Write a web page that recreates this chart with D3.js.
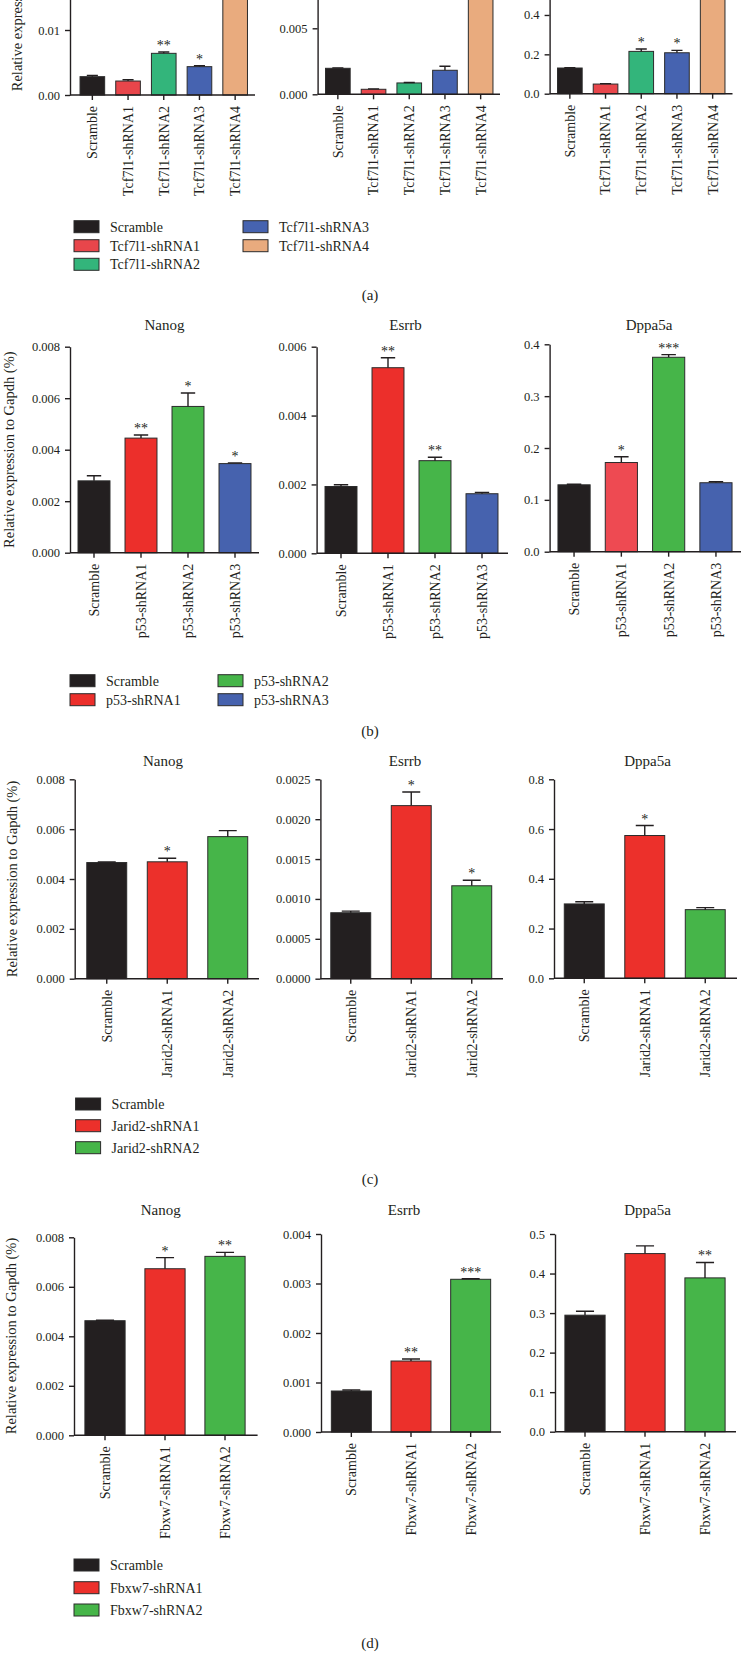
<!DOCTYPE html>
<html><head><meta charset="utf-8">
<script src="https://cdn.jsdelivr.net/npm/d3@7"></script>
<style>
body{margin:0;background:#fff}
svg{display:block}
text{font-family:"Liberation Serif","Times New Roman",serif;fill:#231f20}
</style>
</head><body>
<svg id="c" width="741" height="1665"></svg>
<script>
// ---------------- DATA ----------------
const genes = ["Nanog", "Esrrb", "Dppa5a"];
const panelNames = ["(a)", "(b)", "(c)", "(d)"];

// (a) Tcf7l1 knockdown (top of figure is cropped)
const catsA = ["Scramble", "Tcf7l1-shRNA1", "Tcf7l1-shRNA2", "Tcf7l1-shRNA3", "Tcf7l1-shRNA4"];
const meanA = [[0.00282, 0.00215, 0.00641, 0.00436, 0.025],
               [0.00197, 0.00038, 0.00086, 0.00182, 0.012],
               [0.1305, 0.049, 0.215, 0.208, 0.8]];
const errA  = [[0.0002, 0.0002, 0.0002, 0.00015, 0.001],
               [0.00003, 0.00003, 0.00003, 0.0003, 0.001],
               [0.002, 0.002, 0.012, 0.012, 0.05]];
const sigA  = [["", "", "**", "*", ""], ["", "", "", "", ""], ["", "", "*", "*", ""]];
const ticksA = [[0, 0.01], [0, 0.005], [0, 0.2, 0.4]];
const tickTextA = [["0.00", "0.01"], ["0.000", "0.005"], ["0.0", "0.2", "0.4"]];
const yMaxA = [0.02, 0.01, 0.6];
const colorsA = ["#231f20", "#e8464b", "#33b57b", "#4663b0", "#e9ab7e"];

// (b) p53 knockdown
const catsB = ["Scramble", "p53-shRNA1", "p53-shRNA2", "p53-shRNA3"];
const meanB = [[0.00279, 0.00445, 0.00568, 0.00346],
               [0.00194, 0.00539, 0.00269, 0.00173],
               [0.129, 0.172, 0.375, 0.133]];
const errB  = [[0.0002, 0.00012, 0.00052, 0.00003],
               [0.00005, 0.00029, 0.0001, 0.00004],
               [0.001, 0.011, 0.005, 0.002]];
const sigB  = [["", "**", "*", "*"], ["", "**", "**", ""], ["", "*", "***", ""]];
const ticksB = [[0, 0.002, 0.004, 0.006, 0.008], [0, 0.002, 0.004, 0.006], [0, 0.1, 0.2, 0.3, 0.4]];
const tickTextB = [["0.000", "0.002", "0.004", "0.006", "0.008"], ["0.000", "0.002", "0.004", "0.006"], ["0.0", "0.1", "0.2", "0.3", "0.4"]];
const yMaxB = [0.008, 0.006, 0.4];
const colorsB = ["#231f20", "#ec2f2b", "#46b549", "#4662ae"];
const colorsBDppa5a = ["#231f20", "#ee4a52", "#46b549", "#4662ae"];

// (c) Jarid2 knockdown
const catsC = ["Scramble", "Jarid2-shRNA1", "Jarid2-shRNA2"];
const meanC = [[0.00466, 0.00469, 0.0057],
               [0.000827, 0.00217, 0.001165],
               [0.299, 0.574, 0.276]];
const errC  = [[0.00002, 0.00014, 0.00024],
               [0.00002, 0.00017, 0.00007],
               [0.009, 0.04, 0.008]];
const sigC  = [["", "*", ""], ["", "*", "*"], ["", "*", ""]];
const ticksC = [[0, 0.002, 0.004, 0.006, 0.008], [0, 0.0005, 0.001, 0.0015, 0.002, 0.0025], [0, 0.2, 0.4, 0.6, 0.8]];
const tickTextC = [["0.000", "0.002", "0.004", "0.006", "0.008"], ["0.0000", "0.0005", "0.0010", "0.0015", "0.0020", "0.0025"], ["0.0", "0.2", "0.4", "0.6", "0.8"]];
const yMaxC = [0.008, 0.0025, 0.8];
const colorsC = ["#231f20", "#ec302b", "#46b549"];

// (d) Fbxw7 knockdown
const catsD = ["Scramble", "Fbxw7-shRNA1", "Fbxw7-shRNA2"];
const meanD = [[0.00463, 0.00673, 0.00723],
               [0.000828, 0.001434, 0.003085],
               [0.2947, 0.4505, 0.389]];
const errD  = [[0.00002, 0.00045, 0.00016],
               [0.00002, 0.00004, 0.00001],
               [0.010, 0.0195, 0.039]];
const sigD  = [["", "*", "**"], ["", "**", "***"], ["", "", "**"]];
const ticksD = [[0, 0.002, 0.004, 0.006, 0.008], [0, 0.001, 0.002, 0.003, 0.004], [0, 0.1, 0.2, 0.3, 0.4, 0.5]];
const tickTextD = [["0.000", "0.002", "0.004", "0.006", "0.008"], ["0.000", "0.001", "0.002", "0.003", "0.004"], ["0.0", "0.1", "0.2", "0.3", "0.4", "0.5"]];
const yMaxD = [0.008, 0.004, 0.5];
const colorsD = ["#231f20", "#ec302b", "#46b549"];

const yTitle = "Relative expression to Gapdh (%)";

// ---------------- LAYOUT (positions only) ----------------
const panels = [
  { cats: catsA, mean: meanA, err: errA, sig: sigA, ticks: ticksA, tickText: tickTextA, yMax: yMaxA,
    colors: [colorsA, colorsA, colorsA], legendColors: colorsA,
    y0: [95, 94.3, 93.7], yTop: [-35, -37.7, -24.4],
    axisX: [70, 317.6, 549.6], axisEnd: [255, 500, 732.5],
    range: [[74.5, 253], [320, 498.5], [552, 730.5]], pad: 0.31,
    titleY: null, titleX: [164, 405, 649],
    ylabX: 17, ylabY: -7,
    legend: [[74, 226.7], [74, 245.7], [74, 264.3], [243, 226.7], [243, 245.7]],
    nameY: 295 },
  { cats: catsB, mean: meanB, err: errB, sig: sigB, ticks: ticksB, tickText: tickTextB, yMax: yMaxB,
    colors: [colorsB, colorsB, colorsBDppa5a], legendColors: colorsB,
    y0: [552.7, 553.3, 551.7], yTop: [346.7, 346.7, 344.3],
    axisX: [70, 316.6, 549.6], axisEnd: [259, 508, 741],
    range: [[70.5, 258.5], [317.5, 505.5], [550.4, 739.6]], pad: 0.32,
    titleY: 325, titleX: [164.5, 405.5, 649],
    ylabX: 8.5, ylabY: 449.7,
    legend: [[70, 680.7], [70, 699.7], [218, 680.7], [218, 699.7]],
    nameY: 731 },
  { cats: catsC, mean: meanC, err: errC, sig: sigC, ticks: ticksC, tickText: tickTextC, yMax: yMaxC,
    colors: [colorsC, colorsC, colorsC], legendColors: colorsC,
    y0: [978.7, 978.7, 978.3], yTop: [779.3, 779.3, 779.3],
    axisX: [74.7, 320.4, 554], axisEnd: [259, 503, 737],
    range: [[76.5, 258], [320.5, 502], [554, 735.5]], pad: 0.34,
    titleY: 760.7, titleX: [163, 405, 647.5],
    ylabX: 12, ylabY: 879,
    legend: [[75.6, 1104], [75.6, 1125.7], [75.6, 1147.7]],
    nameY: 1179 },
  { cats: catsD, mean: meanD, err: errD, sig: sigD, ticks: ticksD, tickText: tickTextD, yMax: yMaxD,
    colors: [colorsD, colorsD, colorsD], legendColors: colorsD,
    y0: [1435.3, 1432, 1431.7], yTop: [1237.3, 1234, 1234],
    axisX: [74, 321, 555], axisEnd: [257.6, 501, 736],
    range: [[75, 255], [321.5, 500.5], [555, 735]], pad: 0.33,
    titleY: 1209.3, titleX: [160.7, 404, 647.5],
    ylabX: 10.5, ylabY: 1336,
    legend: [[74, 1565], [74, 1587.7], [74, 1610]],
    nameY: 1643 }
];

const INK = "#231f20";
const svg = d3.select("#c");

function styleAxis(g) {
  g.attr("font-family", null).attr("font-size", null);
  g.selectAll(".domain").attr("stroke", INK).attr("stroke-width", 1.4);
  g.selectAll(".tick line").attr("stroke", INK).attr("stroke-width", 1.4);
}

panels.forEach((P, pi) => {
  const pg = svg.append("g");
  for (let gi = 0; gi < 3; gi++) {
    const t = P.ticks[gi];
    const y = d3.scaleLinear().domain([0, P.yMax[gi]]).range([P.y0[gi], P.yTop[gi]]);
    const x = d3.scaleBand().domain(P.cats).range(P.range[gi])
      .paddingInner(P.pad).paddingOuter(P.pad / 2);
    const sg = pg.append("g");
    const means = P.mean[gi], errs = P.err[gi], sigs = P.sig[gi], cols = P.colors[gi];

    // bars
    sg.selectAll("rect.bar").data(P.cats).join("rect").attr("class", "bar")
      .attr("x", d => x(d)).attr("width", x.bandwidth())
      .attr("y", (d, i) => y(means[i]))
      .attr("height", (d, i) => P.y0[gi] - y(means[i]))
      .attr("fill", (d, i) => cols[i])
      .attr("stroke", "#2b2b2b").attr("stroke-width", 1);

    // error bars (upper only)
    const cap = x.bandwidth() * 0.45;
    sg.selectAll("path.err").data(P.cats).join("path").attr("class", "err")
      .attr("d", (d, i) => {
        const cx = x(d) + x.bandwidth() / 2, yt = y(means[i] + errs[i]), yb = y(means[i]);
        return `M${cx},${yb}V${yt}M${cx - cap / 2},${yt}H${cx + cap / 2}`;
      })
      .attr("fill", "none").attr("stroke", INK).attr("stroke-width", 1.4);

    // significance stars
    sg.selectAll("text.sig").data(P.cats.filter((d, i) => sigs[i] !== "")).join("text").attr("class", "sig")
      .attr("x", d => x(d) + x.bandwidth() / 2)
      .attr("y", d => { const i = P.cats.indexOf(d); return y(means[i] + errs[i]) - 2; })
      .attr("text-anchor", "middle").attr("font-size", 14)
      .text(d => sigs[P.cats.indexOf(d)]);

    // y axis (domain line runs up to the top of the scale)
    const ya = d3.axisLeft(y).tickValues(t).tickFormat((d, i) => P.tickText[gi][i])
      .tickSize(5).tickSizeOuter(0).tickPadding(5);
    const yg = sg.append("g").attr("transform", `translate(${P.axisX[gi]},0)`).call(ya);
    styleAxis(yg);
    yg.selectAll(".tick text").attr("font-size", 12.5).attr("fill", INK);

    // x axis
    const xa = d3.axisBottom(x).tickSize(5).tickSizeOuter(0).tickFormat("");
    const xg = sg.append("g").attr("transform", `translate(0,${P.y0[gi]})`).call(xa);
    styleAxis(xg);
    xg.select(".domain").attr("d", `M${P.axisX[gi]},0H${P.axisEnd[gi]}`);

    // rotated category labels
    sg.selectAll("text.cat").data(P.cats).join("text").attr("class", "cat")
      .attr("transform", d => `translate(${x(d) + x.bandwidth() / 2},${P.y0[gi] + 11}) rotate(-90)`)
      .attr("text-anchor", "end").attr("dy", "0.35em").attr("font-size", 14)
      .text(d => d);

    // gene title
    if (P.titleY !== null) {
      sg.append("text").attr("x", P.titleX[gi]).attr("y", P.titleY).attr("dy", "0.35em")
        .attr("text-anchor", "middle").attr("font-size", 15).text(genes[gi]);
    }
  }

  // y-axis title
  pg.append("text")
    .attr("transform", `translate(${P.ylabX},${P.ylabY}) rotate(-90)`)
    .attr("text-anchor", "middle").attr("dy", "0.35em").attr("font-size", 14.5)
    .text(yTitle);

  // legend
  const lg = pg.append("g");
  lg.selectAll("rect").data(P.cats).join("rect")
    .attr("x", (d, i) => P.legend[i][0]).attr("y", (d, i) => P.legend[i][1] - 6)
    .attr("width", 25).attr("height", 12)
    .attr("fill", (d, i) => P.legendColors[i]).attr("stroke", "#2b2b2b").attr("stroke-width", 1);
  lg.selectAll("text").data(P.cats).join("text")
    .attr("x", (d, i) => P.legend[i][0] + 36).attr("y", (d, i) => P.legend[i][1])
    .attr("dy", "0.35em").attr("font-size", 14).text(d => d);

  // panel letter
  pg.append("text").attr("x", 370).attr("y", P.nameY).attr("dy", "0.35em")
    .attr("text-anchor", "middle").attr("font-size", 15).text(panelNames[pi]);
});
</script>
</body></html>
